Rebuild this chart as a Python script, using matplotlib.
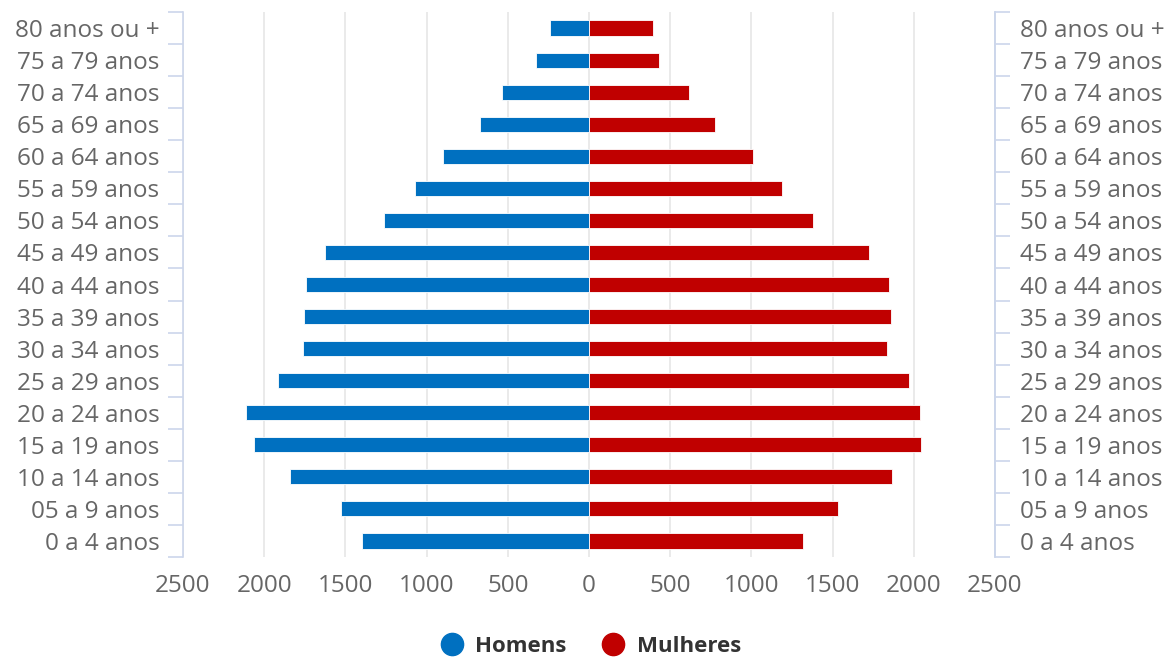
import matplotlib.pyplot as plt
from matplotlib.lines import Line2D
import numpy as np

plt.rcParams['font.family'] = ['Open Sans', 'DejaVu Sans']

# age groups, bottom to top
faixas = ['0 a 4 anos', '05 a 9 anos', '10 a 14 anos', '15 a 19 anos',
          '20 a 24 anos', '25 a 29 anos', '30 a 34 anos', '35 a 39 anos',
          '40 a 44 anos', '45 a 49 anos', '50 a 54 anos', '55 a 59 anos',
          '60 a 64 anos', '65 a 69 anos', '70 a 74 anos', '75 a 79 anos',
          '80 anos ou +']
homens = [1396, 1528, 1844, 2065, 2115, 1913, 1762, 1752, 1741, 1628,
          1264, 1072, 900, 669, 537, 324, 243]
mulheres = [1320, 1532, 1865, 2046, 2036, 1968, 1832, 1859, 1849, 1723,
            1382, 1190, 1009, 777, 616, 433, 394]
xticks = [-2500, -2000, -1500, -1000, -500, 0, 500, 1000, 1500, 2000, 2500]

azul = '#0070C0'
vermelho = '#C00000'
cinza = '#666666'
eixo = '#ccd6eb'

fig = plt.figure(figsize=(11.71, 6.6), dpi=100)
ax = fig.add_axes([183/1171, 1 - 557/660, (995 - 183)/1171, (557 - 12)/660])

y = np.arange(len(faixas))
ax.barh(y, -np.array(homens), height=0.47, color=azul, edgecolor='white', linewidth=0.6, zorder=3)
ax.barh(y, mulheres, height=0.47, color=vermelho, edgecolor='white', linewidth=0.6, zorder=3)

ax.set_xlim(-2500, 2500)
ax.set_ylim(-0.5, len(faixas) - 0.5)

# x axis
ax.set_xticks(xticks)
ax.set_xticklabels([str(abs(v)) for v in xticks], color=cinza, fontsize=17.5)
ax.tick_params(axis='x', length=0, pad=12)
ax.grid(axis='x', color='#e6e6e6', linewidth=1.2, zorder=0)
ax.set_axisbelow(True)

for s in ['top', 'bottom']:
    ax.spines[s].set_visible(False)
for s in ['left', 'right']:
    ax.spines[s].set_color(eixo)
    ax.spines[s].set_linewidth(1.2)

# left category axis
bounds = np.arange(-0.5, len(faixas), 1.0)
ax.set_yticks(y)
ax.set_yticklabels(faixas, color=cinza, fontsize=17.5)
ax.set_yticks(bounds, minor=True)
ax.tick_params(axis='y', which='major', length=0, pad=17)
ax.tick_params(axis='y', which='minor', length=11, color=eixo, width=1.2)

# right category axis
ax2 = ax.twinx()
ax2.set_ylim(ax.get_ylim())
ax2.set_yticks(y)
ax2.set_yticklabels(faixas, color=cinza, fontsize=17.5)
ax2.set_yticks(bounds, minor=True)
ax2.tick_params(axis='y', which='major', length=0, pad=18)
ax2.tick_params(axis='y', which='minor', length=11, color=eixo, width=1.2)
for s in ['top', 'bottom', 'left']:
    ax2.spines[s].set_visible(False)
ax2.spines['right'].set_color(eixo)
ax2.spines['right'].set_linewidth(1.2)

handles = [Line2D([], [], marker='o', linestyle='', markersize=16, color=azul),
           Line2D([], [], marker='o', linestyle='', markersize=16, color=vermelho)]
leg = fig.legend(handles, ['Homens', 'Mulheres'], loc='center', bbox_to_anchor=(591/1171, 1 - 646/660),
                 ncol=2, frameon=False, handlelength=1.0, handletextpad=0.55, columnspacing=1.6,
                 borderpad=0.1, prop={'weight': 'bold', 'size': 16})
for t in leg.get_texts():
    t.set_color('#333333')

fig.savefig('out.png', dpi=100)
